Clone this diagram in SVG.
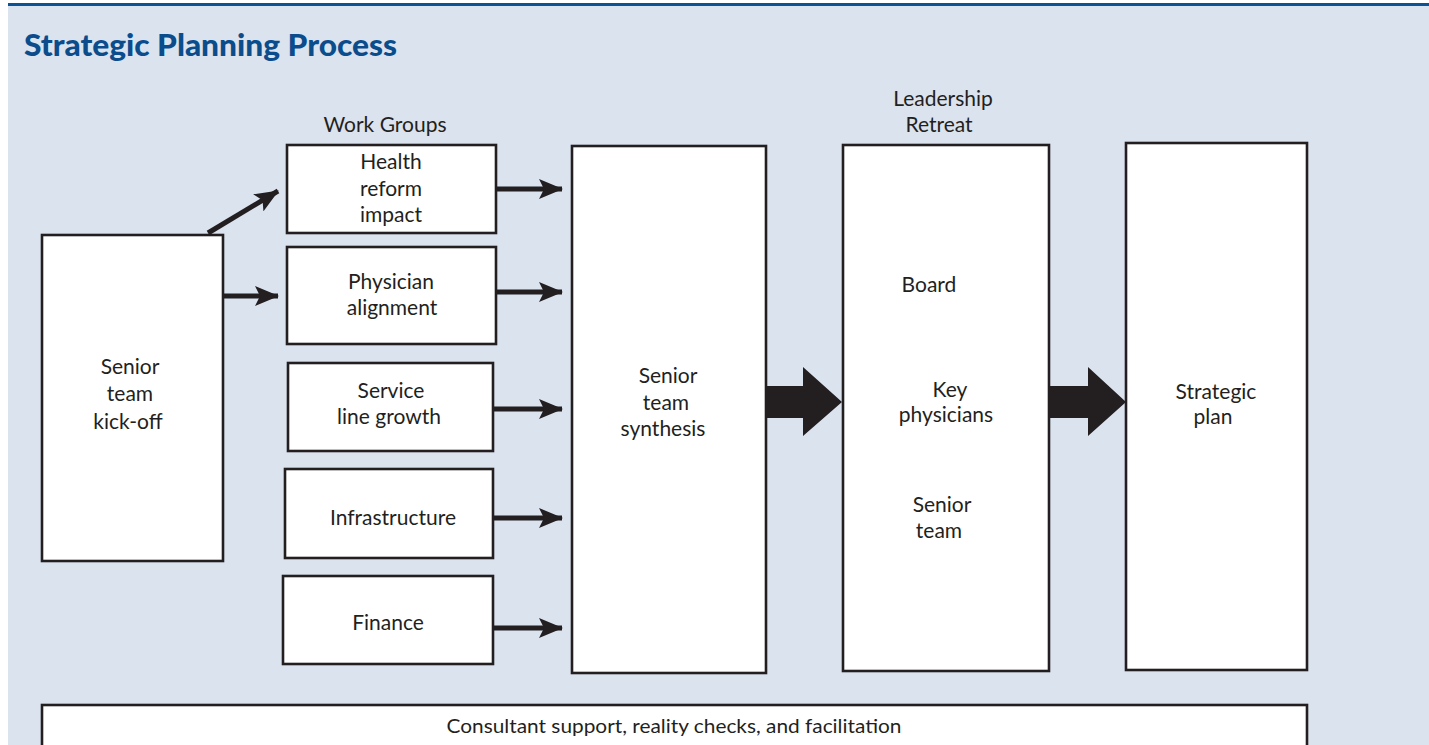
<svg xmlns="http://www.w3.org/2000/svg" width="1429" height="745" viewBox="0 0 1429 745">
  <style>
    .box { fill: #ffffff; stroke: #231f20; stroke-width: 2.6; }
    .lbl { font-family: Lato, "Noto Sans", sans-serif; font-size: 21px; fill: #231f20; text-anchor: middle; }
    .cond { font-family: Lato, "Noto Sans", sans-serif; font-size: 20px; fill: #231f20; text-anchor: middle; }
    .title { font-family: Lato, "Noto Sans", sans-serif; font-weight: 900; font-size: 31px; fill: #0b4d8c; }
    .shaft { stroke: #231f20; stroke-width: 5; fill: none; }
    .head { fill: #231f20; }
  </style>
  <defs>
    <marker id="ah" viewBox="0 0 24 20" refX="23" refY="10" markerWidth="24" markerHeight="20" markerUnits="userSpaceOnUse" orient="auto">
      <path d="M0,0 L24,10 L0,20 L5,10 Z" class="head"/>
    </marker>
  </defs>

  <!-- panel -->
  <rect x="8" y="5" width="1421" height="740" fill="#dbe3ef"/>
  <rect x="8" y="3" width="1421" height="3" fill="#0b5394"/>
  <text x="24" y="56" class="title" textLength="373" lengthAdjust="spacingAndGlyphs">Strategic Planning Process</text>

  <!-- column headings -->
  <text x="385" y="132" class="lbl">Work Groups</text>
  <text x="943" y="106" class="lbl">Leadership</text>
  <text x="939" y="132" class="lbl">Retreat</text>

  <g id="kickoff">
    <rect x="42" y="235" width="181" height="326" class="box"/>
    <text x="130" y="374" class="lbl">Senior</text>
    <text x="130" y="401" class="lbl">team</text>
    <text x="128" y="429" class="lbl">kick-off</text>
  </g>

  <g id="health">
    <rect x="287" y="145" width="209" height="88" class="box"/>
    <text x="391" y="169" class="lbl">Health</text>
    <text x="391" y="196" class="lbl">reform</text>
    <text x="391" y="222" class="lbl">impact</text>
  </g>

  <g id="physician">
    <rect x="287" y="247" width="209" height="97" class="box"/>
    <text x="391" y="289" class="lbl">Physician</text>
    <text x="392" y="315" class="lbl">alignment</text>
  </g>

  <g id="service">
    <rect x="288" y="363" width="205" height="88" class="box"/>
    <text x="391" y="398" class="lbl">Service</text>
    <text x="389" y="424" class="lbl">line growth</text>
  </g>

  <g id="infrastructure">
    <rect x="285" y="469" width="208" height="89" class="box"/>
    <text x="393" y="525" class="lbl">Infrastructure</text>
  </g>

  <g id="finance">
    <rect x="283" y="576" width="210" height="88" class="box"/>
    <text x="388" y="630" class="lbl">Finance</text>
  </g>

  <g id="synthesis">
    <rect x="572" y="146" width="194" height="527" class="box"/>
    <text x="668" y="383" class="lbl">Senior</text>
    <text x="666" y="410" class="lbl">team</text>
    <text x="663" y="436" class="lbl">synthesis</text>
  </g>

  <g id="retreat">
    <rect x="843" y="145" width="206" height="526" class="box"/>
    <text x="929" y="292" class="lbl">Board</text>
    <text x="950" y="397" class="lbl">Key</text>
    <text x="946" y="422" class="lbl">physicians</text>
    <text x="942" y="512" class="lbl">Senior</text>
    <text x="939" y="538" class="lbl">team</text>
  </g>

  <g id="plan">
    <rect x="1126" y="143" width="181" height="527" class="box"/>
    <text x="1216" y="399" class="lbl">Strategic</text>
    <text x="1213" y="424" class="lbl">plan</text>
  </g>

  <g id="consultant">
    <rect x="42" y="705" width="1265" height="50" class="box"/>
    <text x="674" y="733" class="cond" textLength="455" lengthAdjust="spacingAndGlyphs">Consultant support, reality checks, and facilitation</text>
  </g>

  <g id="connectors">
    <line x1="208" y1="233" x2="278" y2="191" class="shaft" marker-end="url(#ah)"/>
    <line x1="224" y1="296" x2="278" y2="296" class="shaft" marker-end="url(#ah)"/>
    <line x1="497" y1="189" x2="562" y2="189" class="shaft" marker-end="url(#ah)"/>
    <line x1="497" y1="292" x2="562" y2="292" class="shaft" marker-end="url(#ah)"/>
    <line x1="494" y1="409" x2="562" y2="409" class="shaft" marker-end="url(#ah)"/>
    <line x1="494" y1="518" x2="562" y2="518" class="shaft" marker-end="url(#ah)"/>
    <line x1="494" y1="628" x2="562" y2="628" class="shaft" marker-end="url(#ah)"/>
    <polygon class="head" points="766,386 803,386 803,367 842,402 803,436 803,418 766,418"/>
    <polygon class="head" points="1049,386 1088,386 1088,367 1126,402 1088,436 1088,418 1049,418"/>
  </g>
</svg>
